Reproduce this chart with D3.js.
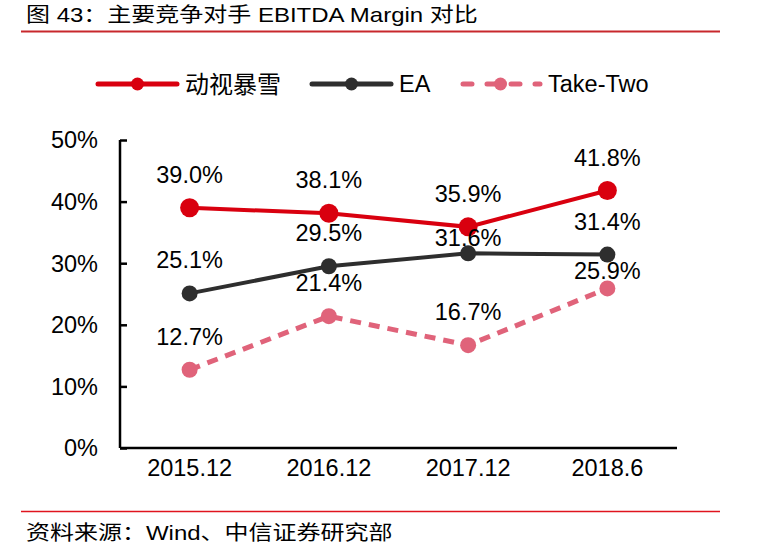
<!DOCTYPE html>
<html><head><meta charset="utf-8">
<script src="https://cdn.jsdelivr.net/npm/d3@7/dist/d3.min.js"></script>
<style>
body{margin:0;background:#fff;}
text{font-family:"Liberation Sans",Arial,sans-serif;fill:#000;}
.mix{font-family:"Liberation Sans","Noto Sans CJK SC",sans-serif;}
.cjk{font-family:"Noto Sans CJK SC","Liberation Sans",sans-serif;}
</style></head>
<body>
<svg id="chart" width="766" height="549"></svg>
<script>
const categories = ["2015.12","2016.12","2017.12","2018.6"];
const activision = [39.0, 38.1, 35.9, 41.8];
const ea = [25.1, 29.5, 31.6, 31.4];
const takeTwo = [12.7, 21.4, 16.7, 25.9];
const seriesNames = ["动视暴雪","EA","Take-Two"];
const yTicks = [0,10,20,30,40,50];
const title = "图 43：主要竞争对手 EBITDA Margin 对比";
const source = "资料来源：Wind、中信证券研究部";

const svg = d3.select("#chart");
const colors = ["#d9000f","#2e2e2e","#e0637a"];
const series = [activision, ea, takeTwo];
const FS = 23.5;

// title & rules
svg.append("text").attr("class","mix").attr("transform","translate(26,22) scale(1.2,1)")
  .attr("font-size",20).text(title);
svg.append("line").attr("x1",21).attr("x2",720).attr("y1",31.5).attr("y2",31.5)
  .attr("stroke","#c8282c").attr("stroke-width",2);
svg.append("line").attr("x1",21).attr("x2",720).attr("y1",511.5).attr("y2",511.5)
  .attr("stroke","#e0141e").attr("stroke-width",1.5);
svg.append("text").attr("class","mix").attr("transform","translate(26,540) scale(1.2,1)")
  .attr("font-size",20).text(source);

const x = d3.scaleBand().domain(categories).range([120,677]);
const y = d3.scaleLinear().domain([0,50]).range([448,140]);

// axes
const yAxis = svg.append("g").attr("transform","translate(120,0)")
  .call(d3.axisRight(y).tickValues(yTicks).tickSize(7).tickFormat(""));
yAxis.select(".domain").attr("d","M0,140V448").attr("stroke","#000").attr("stroke-width",2.5);
yAxis.selectAll(".tick line").attr("stroke","#000").attr("stroke-width",2.5);
svg.append("g").selectAll("text").data(yTicks).join("text")
  .attr("x",98).attr("y",d=>y(d)).attr("dy","0.36em").attr("text-anchor","end")
  .attr("font-size",FS).text(d=>d+"%");

const xAxis = svg.append("g").attr("transform","translate(0,448)")
  .call(d3.axisBottom(x).tickSize(0).tickPadding(0));
xAxis.select(".domain").attr("d","M120,0H677").attr("stroke","#000").attr("stroke-width",2.5);
xAxis.selectAll(".tick text").attr("y",28).attr("dy",0).attr("font-size",FS)
  .attr("font-family","Liberation Sans, Arial, sans-serif").attr("fill","#000");

const cx = d => x(d) + x.bandwidth()/2;
const line = d3.line().x((d,i)=>cx(categories[i])).y(d=>y(d));

const radii = [9.5, 8, 8];
const labelDy = {"1-2":-7, "1-3":-25, "2-3":-9}; // overrides for crowded labels
series.forEach((vals,s)=>{
  svg.append("path").datum(vals).attr("d",line).attr("fill","none")
    .attr("stroke",colors[s]).attr("stroke-width",s===2?5:4)
    .attr("stroke-dasharray",s===2?"11,8":null);
});
series.forEach((vals,s)=>{
  svg.append("g").selectAll("circle").data(vals).join("circle")
    .attr("cx",(d,i)=>cx(categories[i])).attr("cy",d=>y(d)).attr("r",radii[s])
    .attr("fill",colors[s]);
});
series.forEach((vals,s)=>{
  svg.append("g").selectAll("text").data(vals).join("text")
    .attr("x",(d,i)=>cx(categories[i]))
    .attr("y",(d,i)=>y(d) + (labelDy[s+"-"+i] !== undefined ? labelDy[s+"-"+i] : -25))
    .attr("text-anchor","middle").attr("font-size",FS)
    .text(d=>d.toFixed(1)+"%");
});

// legend
const legX = [98, 312, 461];
const legW = 79;
seriesNames.forEach((n,s)=>{
  const g = svg.append("g").attr("transform",`translate(${legX[s]},84)`);
  g.append("line").attr("x1",s===2?2:0).attr("x2",legW).attr("y1",0).attr("y2",0)
    .attr("stroke",colors[s]).attr("stroke-width",5).attr("stroke-linecap","round")
    .attr("stroke-dasharray",s===2?"9,15":null);
  g.append("circle").attr("cx",legW/2).attr("cy",0).attr("r",6.5).attr("fill",colors[s]);
  g.append("text").attr("class",s===0?"cjk":null).attr("x",legW+8).attr("y",0).attr("dy","0.36em")
    .attr("font-size",s===0?24:FS).text(n);
});
</script>
</body></html>
